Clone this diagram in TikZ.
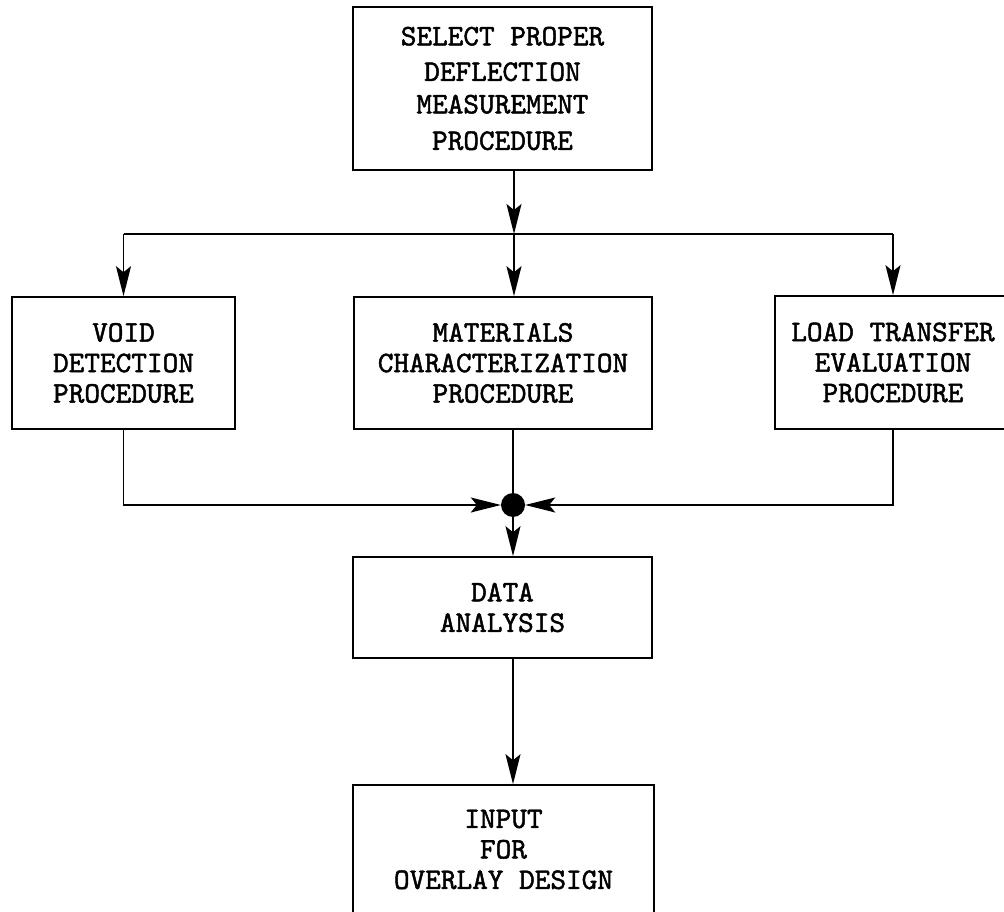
\documentclass[tikz,border=0pt]{standalone}
\usepackage{fontspec}
\newfontfamily\typew{lmmono10-regular}[Extension=.otf, FakeBold=1.6]
\usetikzlibrary{arrows.meta}
\begin{document}
\begin{tikzpicture}[x=1pt,y=-1pt,
  box/.style={draw, line width=1.6pt, inner sep=0pt, align=center,
    font=\fontsize{29.8}{30.5}\selectfont\typew},
  wire/.style={line width=1.7pt},
  arr/.style={wire, -{Stealth[length=30pt,width=15pt,inset=6pt]}}]
\useasboundingbox (0,0) rectangle (1004,912);
\fill[white] (0,0) rectangle (1004,912);
% boxes
\node[box, minimum width=299pt, minimum height=163pt] (top) at (502.5,88.5)
  {SELECT PROPER\\[5pt] DEFLECTION\\[2pt] MEASUREMENT\\[6pt] PROCEDURE};
\node[box, minimum width=223pt, minimum height=132pt] (void) at (123.5,363)
  {VOID\\ DETECTION\\ PROCEDURE};
\node[box, minimum width=298pt, minimum height=132pt] (mat) at (503,363)
  {MATERIALS\\ CHARACTERIZATION\\ PROCEDURE};
\node[box, minimum width=236pt, minimum height=133pt] (load) at (893,362.5)
  {LOAD TRANSFER\\ EVALUATION\\ PROCEDURE};
\node[box, minimum width=299pt, minimum height=101pt] (data) at (502.5,607.5)
  {DATA\\ ANALYSIS};
\node[box, minimum width=301pt, minimum height=129pt] (input) at (503.5,849.5)
  {INPUT\\ FOR\\ OVERLAY DESIGN};
% split point and junction
\coordinate (split) at (514,234);
\node[circle, fill=black, minimum size=24pt, inner sep=0pt] (jn) at (513,505) {};
% top to branches
\draw[arr] (top.south -| split) -- (split);
\draw[wire] (void.north |- split) -- (load.north |- split);
\draw[arr] (void.north |- split) -- (void.north);
\draw[arr] (split) -- (mat.north -| split);
\draw[arr] (load.north |- split) -- (load.north);
% branches to junction
\draw[arr] (void.south) -- (void.south |- jn) -- (jn.west);
\draw[arr] (load.south) -- (load.south |- jn) -- (jn.east);
\draw[wire] (mat.south -| jn) -- (jn.north);
% junction to data, data to input
\draw[arr] (jn.south) -- (data.north -| jn);
\draw[arr] (data.south -| jn) -- (input.north -| jn);
\end{tikzpicture}
\end{document}
